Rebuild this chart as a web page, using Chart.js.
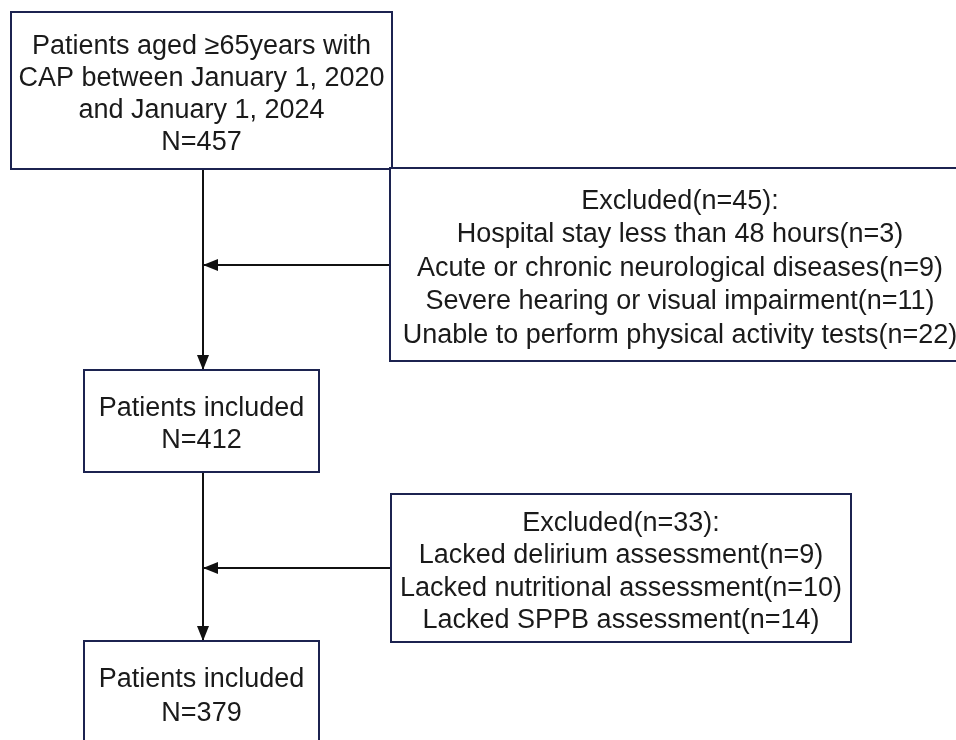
<!DOCTYPE html>
<html>
<head>
<meta charset="utf-8">
<script src="https://cdn.jsdelivr.net/npm/chart.js@4"></script>
<style>
  body { margin: 0; background: #fff; }
  canvas { display: block; }
</style>
</head>
<body>
<canvas id="flowChart" width="956" height="740"></canvas>
<script>
// box texts
const screenedText = ['Patients aged \u226565years with', 'CAP between January 1, 2020', 'and January 1, 2024', 'N=457'];
const excludedFirstText = ['Excluded(n=45):', 'Hospital stay less than 48 hours(n=3)', 'Acute or chronic neurological diseases(n=9)', 'Severe hearing or visual impairment(n=11)', 'Unable to perform physical activity tests(n=22)'];
const includedFirstText = ['Patients included', 'N=412'];
const excludedSecondText = ['Excluded(n=33):', 'Lacked delirium assessment(n=9)', 'Lacked nutritional assessment(n=10)', 'Lacked SPPB assessment(n=14)'];
const includedFinalText = ['Patients included', 'N=379'];

// layout (canvas units), kept apart from the texts
const layout = {
    screened:      { x0: 11,  y0: 12,  x1: 392, y1: 169, lh: 32 },
    excludedFirst: { x0: 390, y0: 168, x1: 970, y1: 361, lh: 33.5 },
    includedFirst: { x0: 84,  y0: 370, x1: 319, y1: 472, lh: 32 },
    excludedSecond:{ x0: 391, y0: 494, x1: 851, y1: 642, lh: 32.5 },
    includedFinal: { x0: 84,  y0: 641, x1: 319, y1: 744, lh: 34 }
};

const boxes = [
    { text: screenedText, ...layout.screened },
    { text: excludedFirstText, ...layout.excludedFirst },
    { text: includedFirstText, ...layout.includedFirst },
    { text: excludedSecondText, ...layout.excludedSecond },
    { text: includedFinalText, ...layout.includedFinal }
];

// connectors: from -> to, arrow at the end
const spineX = 203;
const connectors = [
    [{ x: spineX, y: 169 }, { x: spineX, y: 370 }],
    [{ x: 390, y: 265 }, { x: spineX, y: 265 }],
    [{ x: spineX, y: 472 }, { x: spineX, y: 641 }],
    [{ x: 391, y: 568 }, { x: spineX, y: 568 }]
];

const boxPlugin = {
    id: 'boxPlugin',
    afterDatasetsDraw(chart) {
        const { ctx, scales } = chart;
        const px = v => scales.x.getPixelForValue(v);
        const py = v => scales.y.getPixelForValue(v);
        ctx.save();

        // arrow heads
        ctx.fillStyle = '#111';
        connectors.forEach(c => {
            const a = c[0], b = c[1];
            const bx = px(b.x), by = py(b.y);
            const ang = Math.atan2(by - py(a.y), bx - px(a.x));
            const len = 15, half = 6;
            ctx.beginPath();
            ctx.moveTo(bx, by);
            ctx.lineTo(bx - len * Math.cos(ang) - half * Math.sin(ang), by - len * Math.sin(ang) + half * Math.cos(ang));
            ctx.lineTo(bx - len * Math.cos(ang) + half * Math.sin(ang), by - len * Math.sin(ang) - half * Math.cos(ang));
            ctx.closePath();
            ctx.fill();
        });

        // boxes and their texts
        boxes.forEach(b => {
            const x0 = px(b.x0), x1 = px(b.x1), y0 = py(b.y0), y1 = py(b.y1);
            ctx.fillStyle = '#fff';
            ctx.fillRect(x0, y0, x1 - x0, y1 - y0);
            ctx.strokeStyle = '#1c2350';
            ctx.lineWidth = 2;
            ctx.strokeRect(x0, y0, x1 - x0, y1 - y0);

            ctx.fillStyle = '#1a1a1a';
            ctx.font = '27px "Liberation Sans", Arial, sans-serif';
            ctx.textAlign = 'center';
            ctx.textBaseline = 'middle';
            const cx = (x0 + Math.min(x1, chart.width + 14)) / 2;
            const cy = (y0 + y1) / 2 + 4;
            const n = b.text.length;
            b.text.forEach((line, i) => {
                ctx.fillText(line, cx, cy + (i - (n - 1) / 2) * b.lh);
            });
        });
        ctx.restore();
    }
};

new Chart(document.getElementById('flowChart'), {
    type: 'scatter',
    data: {
        datasets: connectors.map(c => ({
            data: c,
            showLine: true,
            borderColor: '#111',
            borderWidth: 2,
            pointRadius: 0
        }))
    },
    options: {
        responsive: false,
        animation: false,
        layout: { padding: 0 },
        plugins: { legend: { display: false }, tooltip: { enabled: false } },
        scales: {
            x: { type: 'linear', min: 0, max: 956, display: false },
            y: { type: 'linear', min: 0, max: 740, reverse: true, display: false }
        }
    },
    plugins: [boxPlugin]
});
</script>
</body>
</html>
